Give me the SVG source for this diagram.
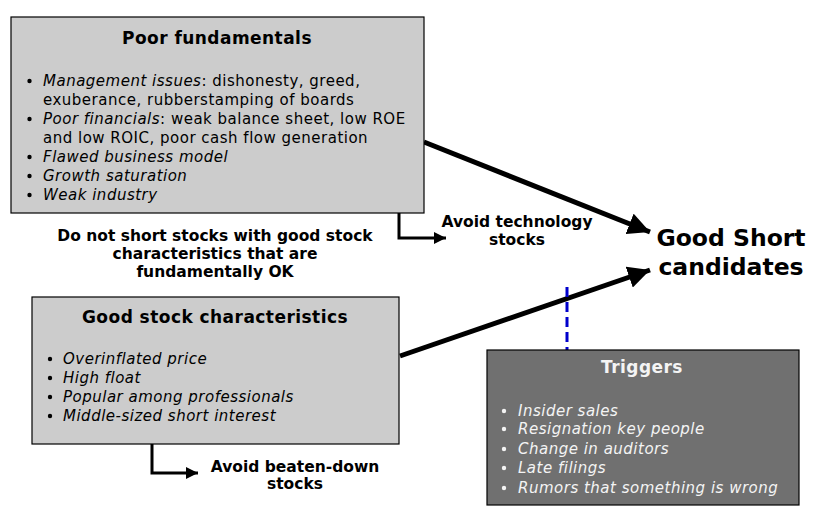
<svg xmlns="http://www.w3.org/2000/svg" width="823" height="518" viewBox="0 0 823 518">
<defs>
<style>
.box{fill:#cccccc;stroke:#000;stroke-width:1.2}
.dbox{fill:#707070;stroke:#000;stroke-width:1.2}
.t{font-family:"DejaVu Sans","Liberation Sans",sans-serif;fill:#000}
.title{font-size:17px;font-weight:bold;text-anchor:middle;letter-spacing:0.45px}
.li{font-size:15px;letter-spacing:0.5px}
.it{font-style:italic}
.lbl{font-size:15.5px;font-weight:bold;text-anchor:middle}
.big{font-size:23.5px;font-weight:bold;text-anchor:middle}
.w{fill:#f4f4f4}
.thin{fill:none;stroke:#000;stroke-width:3}
.thick{fill:none;stroke:#000;stroke-width:5}
</style>
<marker id="ah" viewBox="0 0 10 10" refX="10" refY="5" markerWidth="4.5" markerHeight="4" orient="auto" markerUnits="strokeWidth"><path d="M0,0L10,5L0,10z" fill="#000"/></marker>
<marker id="ahb" viewBox="0 0 10 10" refX="10" refY="5" markerWidth="4.4" markerHeight="4.4" orient="auto" markerUnits="strokeWidth"><path d="M0,0L10,5L0,10z" fill="#000"/></marker>
</defs>

<g id="connectors">
<polyline class="thin" points="399,213 399,238 446,238" marker-end="url(#ah)"/>
<polyline class="thin" points="152,444 152,473 198,473" marker-end="url(#ah)"/>
<line class="thick" x1="424" y1="142" x2="650" y2="232" marker-end="url(#ahb)"/>
<line class="thick" x1="400" y1="356" x2="650" y2="270" marker-end="url(#ahb)"/>
<line x1="567" y1="287" x2="567" y2="350" stroke="#0000cc" stroke-width="3" stroke-dasharray="10,5"/>
</g>

<g id="poor-fundamentals">
<rect class="box" x="11" y="17" width="413" height="196"/>
<text class="t title" x="217" y="44">Poor fundamentals</text>
<g fill="#000">
<circle cx="29.5" cy="81" r="2.2"/><circle cx="29.5" cy="119" r="2.2"/><circle cx="29.5" cy="157" r="2.2"/><circle cx="29.5" cy="176" r="2.2"/><circle cx="29.5" cy="195" r="2.2"/>
</g>
<text class="t li" x="43" y="86"><tspan class="it">Management issues</tspan>: dishonesty, greed,</text>
<text class="t li" x="43" y="105">exuberance, rubberstamping of boards</text>
<text class="t li" x="43" y="124"><tspan class="it">Poor financials</tspan>: weak balance sheet, low ROE</text>
<text class="t li" x="43" y="143">and low ROIC, poor cash flow generation</text>
<text class="t li it" x="43" y="162">Flawed business model</text>
<text class="t li it" x="43" y="181">Growth saturation</text>
<text class="t li it" x="43" y="200">Weak industry</text>
</g>

<g id="note-do-not-short">
<text class="t lbl" x="215" y="241">Do not short stocks with good stock</text>
<text class="t lbl" x="215" y="259">characteristics that are</text>
<text class="t lbl" x="215" y="277">fundamentally OK</text>
</g>

<g id="avoid-technology">
<text class="t lbl" x="517" y="227">Avoid technology</text>
<text class="t lbl" x="517" y="245">stocks</text>
</g>

<g id="good-short">
<text class="t big" x="731" y="246">Good Short</text>
<text class="t big" x="731" y="275">candidates</text>
</g>

<g id="good-stock-characteristics">
<rect class="box" x="32" y="297" width="367" height="147"/>
<text class="t title" x="215" y="323">Good stock characteristics</text>
<g fill="#000">
<circle cx="50" cy="359" r="2.2"/><circle cx="50" cy="378" r="2.2"/><circle cx="50" cy="397" r="2.2"/><circle cx="50" cy="416" r="2.2"/>
</g>
<text class="t li it" x="63" y="364">Overinflated price</text>
<text class="t li it" x="63" y="383">High float</text>
<text class="t li it" x="63" y="402">Popular among professionals</text>
<text class="t li it" x="63" y="421">Middle-sized short interest</text>
</g>

<g id="avoid-beaten-down">
<text class="t lbl" x="295" y="472">Avoid beaten-down</text>
<text class="t lbl" x="295" y="489">stocks</text>
</g>

<g id="triggers">
<rect class="dbox" x="487" y="350" width="312" height="155"/>
<text class="t title w" x="642" y="373">Triggers</text>
<g fill="#f4f4f4">
<circle cx="504" cy="411" r="2.2"/><circle cx="504" cy="429" r="2.2"/><circle cx="504" cy="449" r="2.2"/><circle cx="504" cy="468" r="2.2"/><circle cx="504" cy="488" r="2.2"/>
</g>
<text class="t li it w" x="518" y="416">Insider sales</text>
<text class="t li it w" x="518" y="434">Resignation key people</text>
<text class="t li it w" x="518" y="454">Change in auditors</text>
<text class="t li it w" x="518" y="473">Late filings</text>
<text class="t li it w" x="518" y="493">Rumors that something is wrong</text>
</g>
</svg>
